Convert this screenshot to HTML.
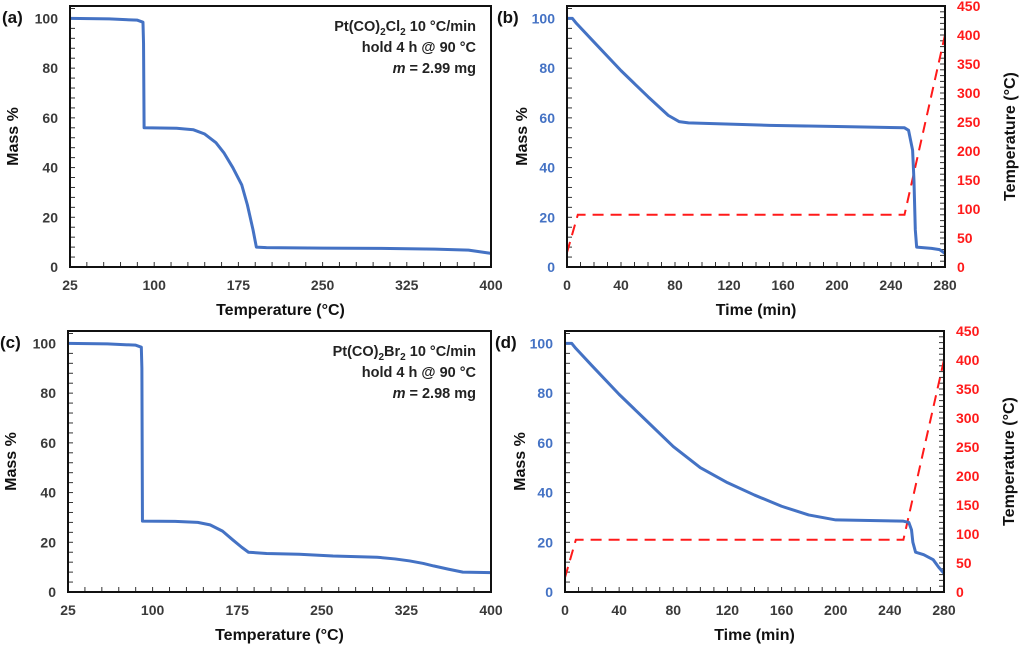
<!DOCTYPE html>
<html><head><meta charset="utf-8"><style>
body{margin:0;background:#fff;}
svg{display:block;font-family:"Liberation Sans",Arial,sans-serif;}
.tk{font-size:14px;font-weight:bold;fill:#3a3a3a;}
.tt{font-size:16px;font-weight:bold;fill:#111;}
.pl{font-size:17px;font-weight:bold;fill:#111;}
.an{font-size:14.5px;font-weight:bold;fill:#222;}
</style></head><body>
<svg id="fig" width="1024" height="645" viewBox="0 0 1024 645"></svg>
<script>
// Panel (a): temperature (°C) vs mass %
const aTemp=[25,60,85,90,90.5,91,120,135,145,155,162,170,178,183,188,191,200,250,300,350,380,400];
const aMass=[100,99.8,99.3,98.5,90,56,55.8,55.2,53.5,50,46,40,33,25,15,8,7.8,7.6,7.5,7.2,6.8,5.5];
// Panel (c)
const cTemp=[25,60,85,90,90.5,91,120,140,151,162,171,179,185,201,230,260,299,315,328,340,349,362,375,400];
const cMass=[100,99.8,99.3,98.5,90,28.5,28.4,28,27,24.5,21,18,16,15.5,15.2,14.5,14,13.3,12.5,11.5,10.5,9.2,8,7.8];
// Panel (b): time (min) vs mass %, temperature program
const bTime=[0,4,7,20,40,60,75,83,90,150,200,250,253,256,257,258,259,270,276,280];
const bMass=[100,100,98,90.5,79,68.5,61,58.5,58,57,56.5,56,55,47,35,15,8,7.5,7,5.5];
// Panel (d)
const dTime=[0,5,8,20,40,60,80,100,120,140,160,180,200,250,254,256,257,259,265,272,276,280];
const dMass=[100,100,98,91,79.5,69,58.5,50,44,39,34.5,31,29,28.5,28,25,20,16,15,13,10,7.5];
// Temperature program (shared by b, d)
const progTime=[0,8,250,280];
const progTemp=[25,90,90,400];
const tempTicks=[25,100,175,250,325,400];
const timeTicks=[0,40,80,120,160,200,240,280];
const massTicks=[0,20,40,60,80,100];
const progTicks=[0,50,100,150,200,250,300,350,400,450];

const NS="http://www.w3.org/2000/svg";
const svg=document.getElementById('fig');
function el(tag,attrs,parent,text){const e=document.createElementNS(NS,tag);for(const k in attrs)e.setAttribute(k,attrs[k]);if(text!==undefined)e.textContent=text;(parent||svg).appendChild(e);return e;}

function panel(o){
  const g=el('g',{});
  
  
  const X=v=>o.L+(v-o.xmin)/(o.xmax-o.xmin)*(o.R-o.L);
  const Y=v=>o.B-v/105*(o.B-o.T);
  const Y2=v=>o.B-v/450*(o.B-o.T);
  for(let v=o.xmin;v<=o.xmax+1e-6;v+=o.xminor){const t=el('line',{x1:X(v),x2:X(v),y1:o.B,y2:o.B-5,stroke:'#333','stroke-width':1},g);}
  for(let v=0;v<=105;v+=4){const t=el('line',{x1:o.L,x2:o.L+5,y1:Y(v),y2:Y(v),stroke:'#333','stroke-width':1},g);}
  if(o.dual){for(let v=0;v<=450;v+=10){const t=el('line',{x1:o.R,x2:o.R-5,y1:Y2(v),y2:Y2(v),stroke:'#333','stroke-width':1},g);}}
  o.xticks.forEach(v=>{const t=el('text',{x:X(v),y:o.B+23,'text-anchor':'middle',class:'tk'},g,String(v));});
  massTicks.forEach(v=>{const t=el('text',{x:o.L-12,y:Y(v)+5,'text-anchor':'end',class:'tk',style:o.dual?'fill:#4472C4':''},g,String(v));});
  if(o.dual){progTicks.forEach(v=>{const t=el('text',{x:o.R+12,y:Y2(v)+5,'text-anchor':'start',class:'tk',style:'fill:#ff1a1a'},g,String(v));});}
  if(o.dual){const p=el('polyline',{points:progTime.map((t,i)=>X(t)+','+Y2(progTemp[i])).join(' '),fill:'none',stroke:'#ff1a1a','stroke-width':2,'stroke-dasharray':'11,7'},g);}
  const m=el('polyline',{points:o.xs.map((t,i)=>X(t)+','+Y(o.ys[i])).join(' '),fill:'none',stroke:'#4472C4','stroke-width':3,'stroke-linejoin':'round'},g);
  
  const f=el('rect',{x:o.L,y:o.T,width:o.R-o.L,height:o.B-o.T,fill:'none',stroke:'#111','stroke-width':2},g);
  
  const xt=el('text',{x:(o.L+o.R)/2,y:o.B+48,'text-anchor':'middle',class:'tt'},g,o.xtitle);
  
  const yc=(o.T+o.B)/2;const yx=o.L-(o.dual?40:52);
  const yt=el('text',{x:yx,y:yc,'text-anchor':'middle',class:'tt',transform:`rotate(-90 ${yx} ${yc})`},g,'Mass %');
  
  if(o.dual){const rx=o.R+70;const rt=el('text',{x:rx,y:yc,'text-anchor':'middle',class:'tt',transform:`rotate(-90 ${rx} ${yc})`},g,'Temperature (°C)');}
  const pl=el('text',{x:o.L-(o.dual?70:68),y:o.T+17,class:'pl'},g,'('+o.id+')');
  
  if(o.ann){
    const a=el('text',{x:o.R-15,y:o.T+25,'text-anchor':'end',class:'an'},g);
    
    el('tspan',{},a,'Pt(CO)');el('tspan',{'font-size':'10','dy':'4'},a,'2');el('tspan',{'dy':'-4'},a,o.ann);el('tspan',{'font-size':'10','dy':'4'},a,'2');el('tspan',{'dy':'-4'},a,' 10 °C/min');
    el('text',{x:o.R-15,y:o.T+46,'text-anchor':'end',class:'an'},g,'hold 4 h @ 90 °C');
    const m3=el('text',{x:o.R-15,y:o.T+67,'text-anchor':'end',class:'an'},g);
    el('tspan',{'font-style':'italic'},m3,'m');el('tspan',{},m3,' = '+o.mass);
  }
}
panel({id:'a',L:70,R:491,T:6,B:267,xmin:25,xmax:400,xminor:15,xticks:tempTicks,xs:aTemp,ys:aMass,xtitle:'Temperature (°C)',ann:'Cl',mass:'2.99 mg'});
panel({id:'b',L:567,R:945,T:6,B:267,xmin:0,xmax:280,xminor:10,xticks:timeTicks,xs:bTime,ys:bMass,xtitle:'Time (min)',dual:true});
panel({id:'c',L:68,R:491,T:331,B:592,xmin:25,xmax:400,xminor:15,xticks:tempTicks,xs:cTemp,ys:cMass,xtitle:'Temperature (°C)',ann:'Br',mass:'2.98 mg'});
panel({id:'d',L:565,R:944,T:331,B:592,xmin:0,xmax:280,xminor:10,xticks:timeTicks,xs:dTime,ys:dMass,xtitle:'Time (min)',dual:true});
</script>
</body></html>
